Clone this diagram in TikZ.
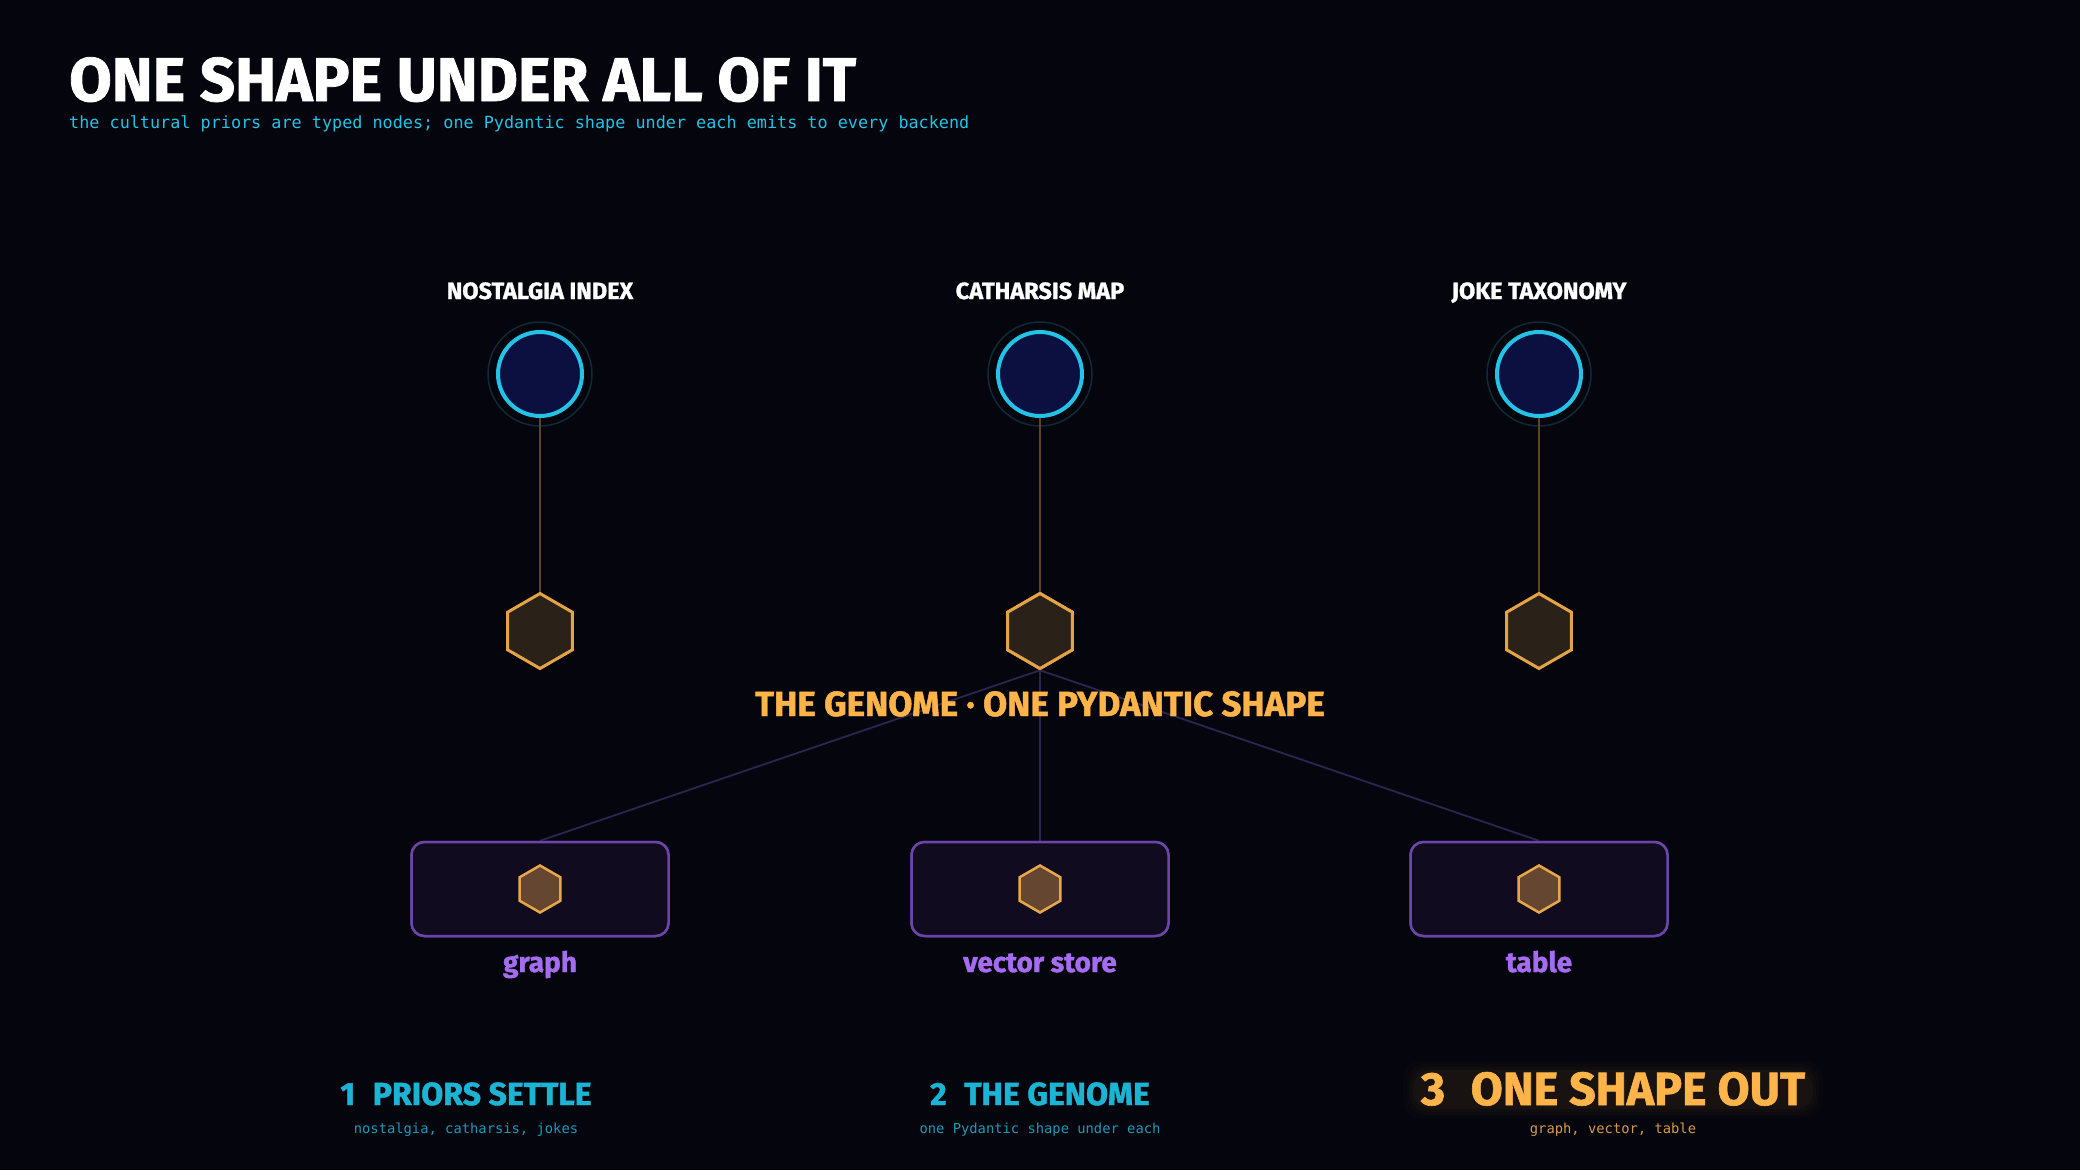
\documentclass[tikz,border=0pt]{standalone}
\usepackage{fontspec}
\setmainfont{Fira Sans}[BoldFeatures={FakeBold=1.3}]
\newfontfamily\monof{DejaVu Sans Mono}
\usetikzlibrary{shapes.geometric,calc}
\definecolor{bgc}{HTML}{05050E}
\definecolor{cyanc}{HTML}{22C3E6}
\definecolor{navyc}{HTML}{0B1040}
\definecolor{ringc}{HTML}{0E2A38}
\definecolor{stemc}{HTML}{5C4424}
\definecolor{hexs}{HTML}{E4A445}
\definecolor{hexf}{HTML}{2A2219}
\definecolor{plinec}{HTML}{2E2450}
\definecolor{boxf}{HTML}{110B1F}
\definecolor{boxs}{HTML}{6B45A8}
\definecolor{shexf}{HTML}{654630}
\definecolor{shexs}{HTML}{E8A848}
\definecolor{purpc}{HTML}{A66CF0}
\definecolor{orangec}{HTML}{FFB44A}
\definecolor{cyanl}{HTML}{1CB4D4}
\definecolor{cyans}{HTML}{1A9AB8}
\definecolor{oranges}{HTML}{D69A48}
\tikzset{
  prior/.style={circle, draw=cyanc, line width=4pt, fill=navyc, minimum size=84pt, inner sep=0pt},
  priorlabel/.style={text=white, anchor=base, inner sep=0pt, font=\fontsize{23.5}{24}\selectfont\bfseries},
  bighex/.style={regular polygon, regular polygon sides=6, shape border rotate=30, draw=hexs, fill=hexf, line width=3pt, minimum size=75pt, inner sep=0pt},
  smallhex/.style={regular polygon, regular polygon sides=6, shape border rotate=30, draw=shexs, fill=shexf, line width=2.5pt, minimum size=47pt, inner sep=0pt},
  stem/.style={draw=stemc, line width=1.5pt},
  pline/.style={draw=plinec, line width=1.8pt},
  backend/.style={rectangle, rounded corners=13pt, draw=boxs, fill=boxf, line width=2.5pt, minimum width=257pt, minimum height=94pt},
  backlabel/.style={text=purpc, anchor=base, inner sep=0pt, font=\fontsize{28}{28}\selectfont\bfseries},
  steplabel/.style={text=cyanl, anchor=base, inner sep=0pt, font=\fontsize{32}{32}\selectfont\bfseries},
  bigstep/.style={text=orangec, anchor=base, inner sep=0pt, font=\fontsize{46.5}{46.5}\selectfont\bfseries},
  stepsub/.style={text=cyans, anchor=base, inner sep=0pt, font=\monof\fontsize{13.8}{14}\selectfont},
}
\begin{document}
\begin{tikzpicture}[x=1pt,y=-1pt]
\fill[bgc] (0,0) rectangle (2080,1170);
\useasboundingbox (0,0) rectangle (2080,1170);

% title
\node[anchor=base west, text=white, inner sep=0pt, font=\fontsize{61.7}{62}\selectfont\bfseries] (title) at (69,101) {ONE SHAPE UNDER ALL OF IT};
\node[anchor=base west, text=cyanc, inner sep=0pt, font=\monof\fontsize{16.8}{17}\selectfont] (subtitle) at (69,128) {the cultural priors are typed nodes; one Pydantic shape under each emits to every backend};

% priors
\foreach \n/\x/\t in {1/540/NOSTALGIA INDEX, 2/1040/CATHARSIS MAP, 3/1539/JOKE TAXONOMY}{
  \draw[ringc, line width=1.5pt] (\x,374) circle (52pt);
  \node[prior] (c\n) at (\x,374) {};
  \node[priorlabel] (l\n) at (\x,299) {\t};
  \node[bighex] (h\n) at (\x,631) {};
  \draw[stem] (c\n) -- (h\n);
}

% backends
\node[backend] (b1) at (540,889) {};
\node[backend] (b2) at (1040,889) {};
\node[backend] (b3) at (1539,889) {};
\draw[pline] (h2.south) -- (b1.north);
\draw[pline] (h2.south) -- (b2.north);
\draw[pline] (h2.south) -- (b3.north);
\node[bighex] at (h2) {};
\node[backend] at (b1) {};
\node[backend] at (b2) {};
\node[backend] at (b3) {};
\node[smallhex] (s1) at (540,889) {};
\node[smallhex] (s2) at (1040,889) {};
\node[smallhex] (s3) at (1539,889) {};
\node[backlabel] (bl1) at (540,972) {graph};
\node[backlabel] (bl2) at (1040,972) {vector store};
\node[backlabel] (bl3) at (1539,972) {table};

% genome label
\node[text=orangec, anchor=base, inner sep=0pt, font=\fontsize{35}{35}\selectfont\bfseries] (genome) at (1040,716) {THE GENOME · ONE PYDANTIC SHAPE};

% steps
\node[steplabel] (st1) at (466,1105) {1\hspace{0.55em}PRIORS SETTLE};
\node[stepsub] (ss1) at (466,1133) {nostalgia, catharsis, jokes};
\node[steplabel] (st2) at (1040,1105) {2\hspace{0.55em}THE GENOME};
\node[stepsub] (ss2) at (1040,1133) {one Pydantic shape under each};
% soft glow behind step 3
\foreach \dx/\dy/\op in {12/11/0.015, 8/8/0.02, 5/5/0.025, 2/2/0.03}{
  \fill[orangec, opacity=\op, rounded corners=18pt] (1613-198-\dx,1072-\dy) rectangle (1613+198+\dx,1107+\dy);
}
\node[bigstep] (st3) at (1613,1105) {3\hspace{0.55em}ONE SHAPE OUT};
\node[stepsub, text=oranges] (ss3) at (1613,1133) {graph, vector, table};
\end{tikzpicture}
\end{document}
